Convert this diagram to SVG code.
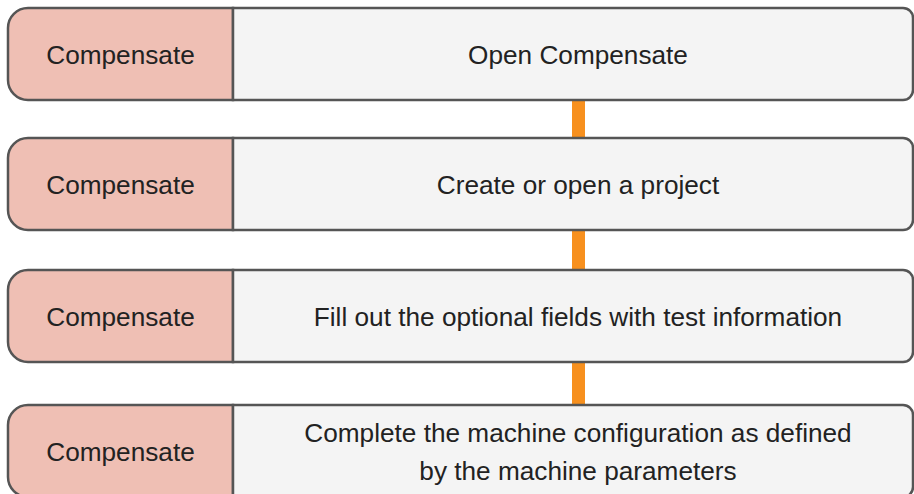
<svg xmlns="http://www.w3.org/2000/svg" width="914" height="494" viewBox="0 0 914 494">
<style>
.l{fill:#EFBFB4;stroke:#555;stroke-width:2.5}
.r{fill:#F4F4F4;stroke:#555;stroke-width:2.5}
.t{font-family:"Liberation Sans",Arial,sans-serif;font-size:26.2px;fill:#222;text-anchor:middle}
.c{fill:#F7901E}
</style>
<rect width="914" height="494" fill="#fff"/>
<g id="connectors">
<rect class="c" x="572" y="100" width="13" height="38"/>
<rect class="c" x="572" y="230" width="13" height="40"/>
<rect class="c" x="572" y="362" width="13" height="43"/>
</g>
<g id="step1">
<path class="l" d="M233,8 H28 A20,20 0 0 0 8,28 V80 A20,20 0 0 0 28,100 H233 Z"/>
<path class="r" d="M233,8 H903 A10,10 0 0 1 913,18 V90 A10,10 0 0 1 903,100 H233 Z"/>
<text class="t" x="120.5" y="64">Compensate</text>
<text class="t" x="578" y="64">Open Compensate</text>
</g>
<g id="step2">
<path class="l" d="M233,138 H28 A20,20 0 0 0 8,158 V210 A20,20 0 0 0 28,230 H233 Z"/>
<path class="r" d="M233,138 H903 A10,10 0 0 1 913,148 V220 A10,10 0 0 1 903,230 H233 Z"/>
<text class="t" x="120.5" y="194">Compensate</text>
<text class="t" x="578" y="194">Create or open a project</text>
</g>
<g id="step3">
<path class="l" d="M233,270 H28 A20,20 0 0 0 8,290 V342 A20,20 0 0 0 28,362 H233 Z"/>
<path class="r" d="M233,270 H903 A10,10 0 0 1 913,280 V352 A10,10 0 0 1 903,362 H233 Z"/>
<text class="t" x="120.5" y="326">Compensate</text>
<text class="t" x="578" y="326">Fill out the optional fields with test information</text>
</g>
<g id="step4">
<path class="l" d="M233,405 H28 A20,20 0 0 0 8,425 V477 A20,20 0 0 0 28,497 H233 Z"/>
<path class="r" d="M233,405 H903 A10,10 0 0 1 913,415 V487 A10,10 0 0 1 903,497 H233 Z"/>
<text class="t" x="120.5" y="461">Compensate</text>
<text class="t" x="578" y="442">Complete the machine configuration as defined</text>
<text class="t" x="578" y="480">by the machine parameters</text>
</g>
</svg>
